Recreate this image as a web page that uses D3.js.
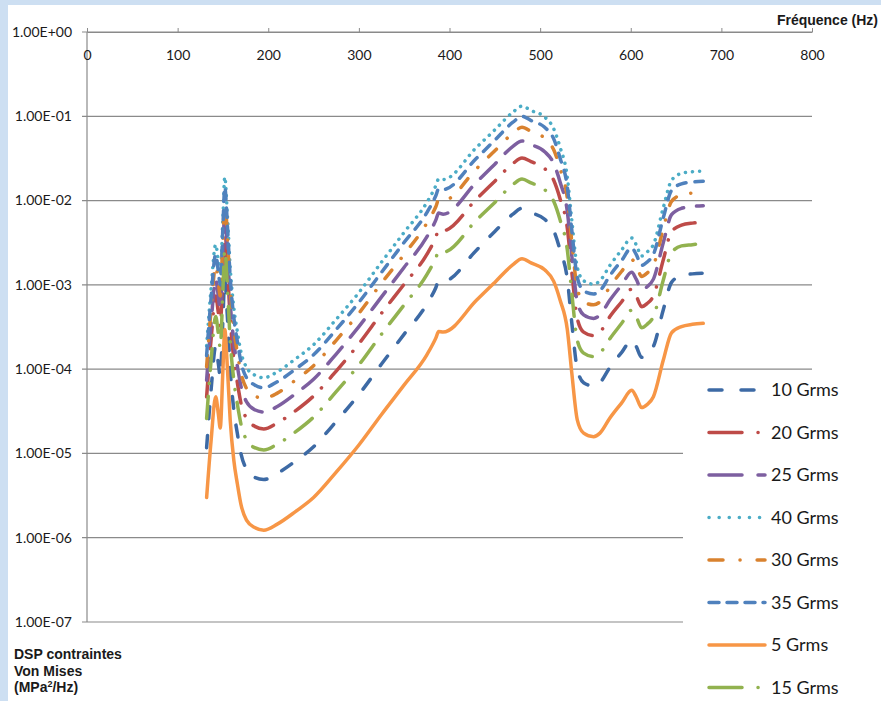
<!DOCTYPE html>
<html>
<head>
<meta charset="utf-8">
<script src="https://cdn.jsdelivr.net/npm/d3@7"></script>
<style>
  body { margin: 0; background: #cddff2; }
  svg { display: block; }
</style>
</head>
<body>
<svg id="chart"></svg>
<script>
// frequencies (Hz) shared by every curve
const freq = [132, 137, 142, 145, 147, 150, 152, 155, 158, 162, 166, 170, 176, 185, 195, 210, 230, 250, 275, 300,
  325, 350, 375, 385, 388, 393, 430, 450, 470, 480, 490, 505, 515, 522, 530, 535, 541, 548, 559, 566,
  577, 590, 601, 606, 612, 618, 625, 636, 645, 656, 668, 680];

// stress PSD values (MPa²/Hz)
const grms5 = [3.0e-6, 1.45e-5, 4.7e-5, 2.9e-5, 2.0e-5, 1.0e-4, 2.95e-4, 1.0e-4, 2.5e-5, 8.3e-6, 4.3e-6, 2.45e-6, 1.62e-6, 1.32e-6, 1.23e-6, 1.45e-6, 2.04e-6, 3.0e-6, 6.0e-6, 1.26e-5,
  2.9e-5, 6.5e-5, 1.48e-4, 2.35e-4, 2.8e-4, 2.75e-4, 6.6e-4, 1.07e-3, 1.74e-3, 2.04e-3, 1.82e-3, 1.51e-3, 1.10e-3, 6.6e-4, 2.95e-4, 8.9e-5, 2.5e-5, 1.74e-5, 1.58e-5, 1.74e-5,
  2.63e-5, 3.98e-5, 5.6e-5, 4.7e-5, 3.5e-5, 3.8e-5, 4.7e-5, 1.29e-4, 2.7e-4, 3.2e-4, 3.4e-4, 3.5e-4];
const grms10 = [1.17e-5, 5.8e-5, 1.86e-4, 1.15e-4, 8.1e-5, 4.0e-4, 1.17e-3, 4.0e-4, 1.0e-4, 3.3e-5, 1.7e-5, 9.8e-6, 6.5e-6, 5.2e-6, 4.9e-6, 5.8e-6, 8.1e-6, 1.2e-5, 2.4e-5, 5.0e-5,
  1.15e-4, 2.6e-4, 5.9e-4, 9.3e-4, 1.12e-3, 1.1e-3, 2.6e-3, 4.3e-3, 6.9e-3, 8.1e-3, 7.2e-3, 6.0e-3, 4.4e-3, 2.6e-3, 1.17e-3, 3.5e-4, 1.0e-4, 6.9e-5, 6.3e-5, 6.9e-5,
  1.05e-4, 1.58e-4, 2.2e-4, 1.86e-4, 1.38e-4, 1.5e-4, 1.86e-4, 5.1e-4, 1.07e-3, 1.29e-3, 1.35e-3, 1.38e-3];
const grms15 = [2.6e-5, 1.29e-4, 4.2e-4, 2.6e-4, 1.8e-4, 8.9e-4, 2.6e-3, 8.9e-4, 2.2e-4, 7.4e-5, 3.8e-5, 2.2e-5, 1.45e-5, 1.17e-5, 1.1e-5, 1.29e-5, 1.8e-5, 2.7e-5, 5.4e-5, 1.12e-4,
  2.6e-4, 5.8e-4, 1.32e-3, 2.1e-3, 2.5e-3, 2.45e-3, 5.9e-3, 9.5e-3, 1.55e-2, 1.8e-2, 1.62e-2, 1.35e-2, 9.8e-3, 5.9e-3, 2.6e-3, 7.9e-4, 2.2e-4, 1.55e-4, 1.41e-4, 1.55e-4,
  2.3e-4, 3.5e-4, 5.0e-4, 4.2e-4, 3.1e-4, 3.4e-4, 4.2e-4, 1.15e-3, 2.4e-3, 2.9e-3, 3.0e-3, 3.1e-3];
const grms20 = [4.7e-5, 2.3e-4, 7.4e-4, 4.6e-4, 3.2e-4, 1.58e-3, 4.7e-3, 1.58e-3, 4.0e-4, 1.32e-4, 6.8e-5, 3.9e-5, 2.6e-5, 2.1e-5, 1.95e-5, 2.3e-5, 3.2e-5, 4.8e-5, 9.5e-5, 2.0e-4,
  4.6e-4, 1.02e-3, 2.3e-3, 3.7e-3, 4.5e-3, 4.4e-3, 1.05e-2, 1.7e-2, 2.75e-2, 3.2e-2, 2.9e-2, 2.4e-2, 1.74e-2, 1.05e-2, 4.7e-3, 1.41e-3, 4.0e-4, 2.75e-4, 2.5e-4, 2.75e-4,
  4.2e-4, 6.3e-4, 8.9e-4, 7.4e-4, 5.5e-4, 6.0e-4, 7.4e-4, 2.0e-3, 4.3e-3, 5.1e-3, 5.4e-3, 5.5e-3];
const grms25 = [7.4e-5, 3.6e-4, 1.17e-3, 7.2e-4, 5.1e-4, 2.5e-3, 7.4e-3, 2.5e-3, 6.3e-4, 2.1e-4, 1.07e-4, 6.2e-5, 4.1e-5, 3.3e-5, 3.1e-5, 3.6e-5, 5.1e-5, 7.6e-5, 1.51e-4, 3.2e-4,
  7.2e-4, 1.62e-3, 3.7e-3, 5.9e-3, 7.1e-3, 6.9e-3, 1.66e-2, 2.7e-2, 4.4e-2, 5.1e-2, 4.6e-2, 3.8e-2, 2.75e-2, 1.66e-2, 7.4e-3, 2.2e-3, 6.3e-4, 4.4e-4, 4.0e-4, 4.4e-4,
  6.6e-4, 1.0e-3, 1.41e-3, 1.17e-3, 8.7e-4, 9.5e-4, 1.17e-3, 3.2e-3, 6.8e-3, 8.1e-3, 8.5e-3, 8.7e-3];
const grms30 = [1.07e-4, 5.2e-4, 1.7e-3, 1.05e-3, 7.4e-4, 3.6e-3, 1.07e-2, 3.6e-3, 9.1e-4, 3.0e-4, 1.55e-4, 8.9e-5, 5.9e-5, 4.8e-5, 4.5e-5, 5.2e-5, 7.4e-5, 1.1e-4, 2.2e-4, 4.6e-4,
  1.05e-3, 2.3e-3, 5.4e-3, 8.5e-3, 1.02e-2, 1.0e-2, 2.4e-2, 3.9e-2, 6.3e-2, 7.4e-2, 6.6e-2, 5.5e-2, 4.0e-2, 2.4e-2, 1.07e-2, 3.2e-3, 9.1e-4, 6.3e-4, 5.8e-4, 6.3e-4,
  9.5e-4, 1.45e-3, 2.0e-3, 1.7e-3, 1.26e-3, 1.38e-3, 1.7e-3, 4.7e-3, 9.8e-3, 1.17e-2, 1.23e-2, 1.26e-2];
const grms35 = [1.45e-4, 7.1e-4, 2.3e-3, 1.41e-3, 1.0e-3, 4.9e-3, 1.45e-2, 4.9e-3, 1.23e-3, 4.1e-4, 2.1e-4, 1.2e-4, 7.9e-5, 6.5e-5, 6.0e-5, 7.1e-5, 1.0e-4, 1.48e-4, 2.95e-4, 6.2e-4,
  1.41e-3, 3.2e-3, 7.2e-3, 1.15e-2, 1.38e-2, 1.35e-2, 3.2e-2, 5.2e-2, 8.5e-2, 1.0e-1, 8.9e-2, 7.4e-2, 5.4e-2, 3.2e-2, 1.45e-2, 4.4e-3, 1.23e-3, 8.5e-4, 7.8e-4, 8.5e-4,
  1.29e-3, 1.95e-3, 2.75e-3, 2.3e-3, 1.7e-3, 1.86e-3, 2.3e-3, 6.3e-3, 1.32e-2, 1.58e-2, 1.66e-2, 1.7e-2];
const grms40 = [1.9e-4, 9.3e-4, 3.0e-3, 1.86e-3, 1.32e-3, 6.5e-3, 1.9e-2, 6.5e-3, 1.62e-3, 5.4e-4, 2.75e-4, 1.58e-4, 1.05e-4, 8.5e-5, 7.9e-5, 9.3e-5, 1.32e-4, 1.95e-4, 3.9e-4, 8.1e-4,
  1.86e-3, 4.2e-3, 9.5e-3, 1.51e-2, 1.8e-2, 1.78e-2, 4.3e-2, 6.9e-2, 1.12e-1, 1.32e-1, 1.17e-1, 9.8e-2, 7.1e-2, 4.3e-2, 1.9e-2, 5.8e-3, 1.62e-3, 1.12e-3, 1.02e-3, 1.12e-3,
  1.7e-3, 2.6e-3, 3.6e-3, 3.0e-3, 2.2e-3, 2.45e-3, 3.0e-3, 8.3e-3, 1.74e-2, 2.1e-2, 2.2e-2, 2.24e-2];

// legend / drawing order as in the original
const seriesNames = ["10 Grms", "20 Grms", "25 Grms", "40 Grms", "30 Grms", "35 Grms", "5 Grms", "15 Grms"];
const seriesValues = [grms10, grms20, grms25, grms40, grms30, grms35, grms5, grms15];

const xTicks = [0, 100, 200, 300, 400, 500, 600, 700, 800];
const yTicks = [1e0, 1e-1, 1e-2, 1e-3, 1e-4, 1e-5, 1e-6, 1e-7];

const colors = ["#3d6aa5", "#be4b48", "#7d5fa0", "#4bacc6", "#d9822f", "#4f81bd", "#f79646", "#92b24f"];
const dashes = ["12,17", "22,13,0.1,13", "22,13", "0.1,7", "11,15,0.1,15", "9,9", null, "22,13,0.1,13"];
// excel draws the legend samples with a stretched pattern
const legendDashes = ["13,19", "33,16,0.1,16", "33,16", "0.1,10", "14,17,0.1,17", "10,8", null, "33,16,0.1,16"];

const W = 881, H = 701;
const svg = d3.select("#chart").attr("width", W).attr("height", H);

// white card over the blue page
svg.append("rect").attr("x", 8).attr("y", 5).attr("width", W - 8).attr("height", H - 5).attr("fill", "#fff");

const x = d3.scaleLinear().domain([0, 800]).range([87, 812]);
const y = d3.scaleLog().domain([1e-7, 1]).range([622, 32]);

// horizontal gridlines (with a small tick to the left)
svg.append("g").selectAll("line").data(yTicks).join("line")
    .attr("x1", 82).attr("x2", x(800))
    .attr("y1", d => y(d)).attr("y2", d => y(d))
    .attr("stroke", "#8a8a8a").attr("stroke-width", 1.2);

// left axis line
svg.append("line").attr("x1", x(0)).attr("x2", x(0)).attr("y1", y(1)).attr("y2", y(1e-7))
    .attr("stroke", "#8a8a8a").attr("stroke-width", 1.2);

const fmt = v => {
    const e = Math.round(Math.log10(v));
    return "1.00E" + (e < 0 ? "-" : "+") + String(Math.abs(e)).padStart(2, "0");
};

svg.append("g").selectAll("text").data(yTicks).join("text")
    .attr("x", 72).attr("y", d => y(d)).attr("dy", "0.35em")
    .attr("text-anchor", "end")
    .style("font-family", "Lato, sans-serif").style("font-size", "14px").attr("fill", "#1a1a1a")
    .text(fmt);

// top frequency axis: ticks point up, labels sit below the line
const xAxis = svg.append("g").attr("transform", `translate(0,${y(1)})`)
    .call(d3.axisTop(x).tickValues(xTicks).tickSize(4).tickSizeOuter(0));
xAxis.select(".domain").attr("stroke", "#8a8a8a").attr("stroke-width", 1.2);
xAxis.selectAll(".tick line").attr("stroke", "#8a8a8a");
xAxis.selectAll(".tick text")
    .attr("y", 28).attr("dy", 0)
    .style("font-family", "Lato, sans-serif").style("font-size", "14px").attr("fill", "#1a1a1a");

svg.append("text").attr("x", 878).attr("y", 25).attr("text-anchor", "end")
    .style("font-family", "'Liberation Sans', Arial, sans-serif").style("font-size", "14px").style("font-weight", "bold")
    .attr("fill", "#1a1a1a").text("Fréquence (Hz)");

const yTitle = svg.append("text").attr("x", 14)
    .style("font-family", "'Liberation Sans', Arial, sans-serif").style("font-size", "14px").style("font-weight", "bold")
    .attr("fill", "#1a1a1a");
yTitle.append("tspan").attr("x", 14).attr("y", 659).text("DSP contraintes");
yTitle.append("tspan").attr("x", 14).attr("y", 676).text("Von Mises");
yTitle.append("tspan").attr("x", 14).attr("y", 692).text("(MPa");
yTitle.append("tspan").attr("dy", -5).style("font-size", "9px").text("2");
yTitle.append("tspan").attr("dy", 5).text("/Hz)");

// curves
const line = d3.line()
    .x(d => x(d[0]))
    .y(d => y(d[1]))
    .curve(d3.curveMonotoneX);

const curves = svg.append("g");
seriesValues.forEach((vals, i) => {
    curves.append("path")
        .datum(freq.map((f, j) => [f, vals[j]]))
        .attr("d", line)
        .attr("fill", "none")
        .attr("stroke", colors[i])
        .attr("stroke-width", 3.5)
        .attr("stroke-linecap", "round")
        .attr("stroke-linejoin", "round")
        .attr("stroke-dasharray", dashes[i]);
});

// legend box covers the gridlines underneath
const legend = svg.append("g");
legend.append("rect").attr("x", 683).attr("y", 372).attr("width", W - 683).attr("height", H - 372).attr("fill", "#fff");
seriesNames.forEach((name, i) => {
    const cy = 390 + i * 42.5;
    legend.append("line")
        .attr("x1", 709).attr("x2", 765).attr("y1", cy).attr("y2", cy)
        .attr("stroke", colors[i]).attr("stroke-width", 3.5)
        .attr("stroke-linecap", "round")
        .attr("stroke-dasharray", legendDashes[i]);
    legend.append("text")
        .attr("x", 771).attr("y", cy).attr("dy", "0.36em")
        .style("font-family", "Lato, sans-serif").style("font-size", "18px").attr("fill", "#1a1a1a")
        .text(name);
});
</script>
</body>
</html>
